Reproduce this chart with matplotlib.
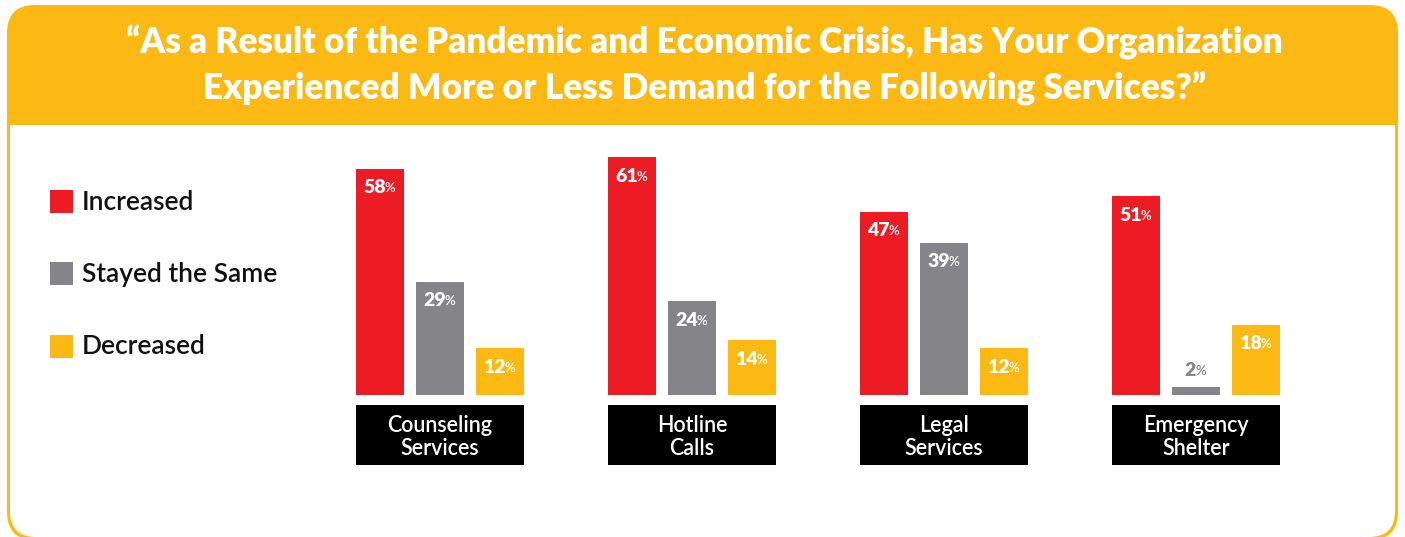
import matplotlib
matplotlib.use("Agg")
import matplotlib.pyplot as plt
from matplotlib.patches import FancyBboxPatch, Rectangle

# data
categories = ["Counseling\nServices", "Hotline\nCalls", "Legal\nServices", "Emergency\nShelter"]
series = ["Increased", "Stayed the Same", "Decreased"]
increased = [58, 61, 47, 51]
stayed = [29, 24, 39, 2]
decreased = [12, 14, 12, 18]
title = "\u201cAs a Result of the Pandemic and Economic Crisis, Has Your Organization\nExperienced More or Less Demand for the Following Services?\u201d"

YELLOW = "#FDB913"
RED = "#ED1C24"
GRAY = "#858589"
colors = [RED, GRAY, YELLOW]

W, H = 1405, 537
fig = plt.figure(figsize=(W / 100, H / 100), dpi=100)
fig.patch.set_facecolor("white")

# background card in pixel coordinates
bg = fig.add_axes([0, 0, 1, 1])
bg.set_xlim(0, W)
bg.set_ylim(H, 0)
bg.axis("off")

bg.add_patch(FancyBboxPatch((7, 5), 1391, 535,
                            boxstyle="round,pad=0,rounding_size=28", fc=YELLOW, ec="none", lw=0))
bg.add_patch(FancyBboxPatch((10, 125), 1385, 412,
                            boxstyle="round,pad=0,rounding_size=26", fc="white", ec="none", lw=0))
bg.add_patch(Rectangle((10, 125), 1385, 60, fc="white", ec="none"))

bg.text(W / 2 + 2, 65, title, ha="center", va="center", color="white",
        fontsize=25.3, fontweight="heavy", family="Lato", linespacing=1.4)

# legend
for i, (name, c) in enumerate(zip(series, colors)):
    y = 201 + i * 72.5
    bg.add_patch(Rectangle((50, y - 11.5), 23, 23, fc=c, ec="none"))
    bg.text(82, y + 1, name, ha="left", va="center", fontsize=19, fontweight="semibold",
            family="Lato", color="#111111")

# bars
unit = 60.0          # px per x unit
step = 252 / unit    # group spacing
px_per_pct = 3.9
ymax = 65
x0 = 356
base = 395
left = x0 / W
width = (15.4 * unit) / W
bottom = (H - base) / H
height = ymax * px_per_pct / H
ax = fig.add_axes([left, bottom, width, height])
ax.set_xlim(-0.4, 15.0)
ax.set_ylim(0, ymax)
ax.axis("off")
ax.patch.set_alpha(0)

values = [increased, stayed, decreased]
for g in range(len(categories)):
    for i in range(3):
        xc = g * step + i
        v = values[i][g]
        ax.bar(xc, v, width=0.8, color=colors[i], linewidth=0)
        if v >= 8:
            yv = v - 19 / px_per_pct
            tc = "white"
        else:
            yv = v + 17 / px_per_pct
            tc = GRAY
        t = ax.annotate(str(v), xy=(xc, yv), xytext=(-4, 0), textcoords="offset points",
                        ha="center", va="center", fontsize=14, fontweight="heavy",
                        family="Lato", color=tc)
        ax.annotate("%", xy=(1, 0), xycoords=t, xytext=(-0.8, 1.5), textcoords="offset points",
                    ha="left", va="bottom", fontsize=9.5, fontweight="semibold",
                    family="Lato", color=tc)
    # category label box
    y_top = -10 / px_per_pct
    y_bot = -70 / px_per_pct
    ax.add_patch(Rectangle((g * step - 0.4, y_bot), 2.8, y_top - y_bot,
                           fc="black", ec="none", clip_on=False))
    ax.text(g * step + 1, (y_top + y_bot) / 2 - 2 / px_per_pct, categories[g],
            ha="center", va="center", color="white", fontsize=15.5,
            fontweight="semibold", family="Lato", linespacing=1.08)

fig.savefig("out.png", dpi=100, facecolor="white")
